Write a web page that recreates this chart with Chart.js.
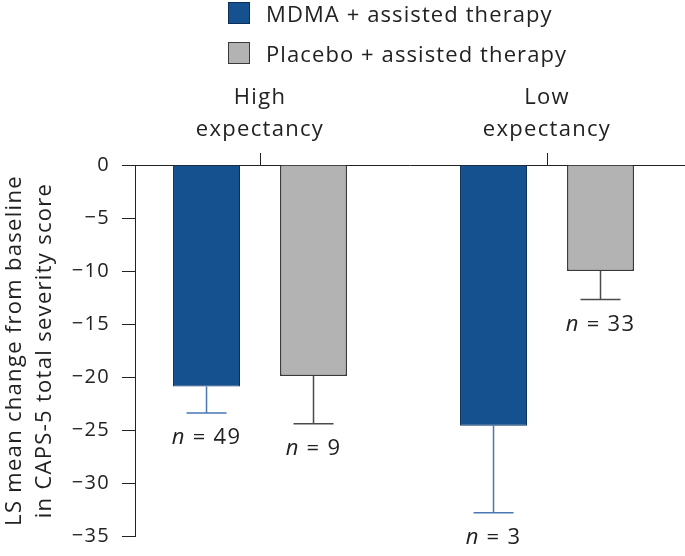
<!DOCTYPE html>
<html>
<head>
<meta charset="utf-8">
<script src="https://cdn.jsdelivr.net/npm/chart.js@4.4.1/dist/chart.umd.min.js"></script>
<style>
  html, body { margin: 0; padding: 0; background: #fff; }
  #wrap { position: relative; width: 685px; height: 556px; }
  #legend { position: absolute; left: 228px; top: 2px; font-family: "Open Sans", sans-serif; font-size: 22px; letter-spacing: 1.1px; color: #222; }
  .item { display: flex; align-items: center; height: 22px; margin-bottom: 18px; }
  .box { width: 22px; height: 22px; box-sizing: border-box; border: 1px solid #333; margin-right: 16px; }
</style>
</head>
<body>
<div id="wrap">
  <canvas id="chart" width="685" height="556"></canvas>
  <div id="legend"></div>
</div>
<script>
// ---- data ----
const groupLabels = [['High', 'expectancy'], ['Low', 'expectancy']];
const seriesNames = ['MDMA + assisted therapy', 'Placebo + assisted therapy'];
const mdmaMeans = [-20.9, -24.6];
const mdmaErrors = [2.5, 8.2];
const mdmaN = [49, 3];
const placeboMeans = [-19.9, -10.0];
const placeboErrors = [4.5, 2.7];
const placeboN = [9, 33];
const yTicks = [0, -5, -10, -15, -20, -25, -30, -35];

const fontFamily = '"Open Sans", sans-serif';
const textColor = '#222';
const spacing = '1.3px';

// canvas letter spacing for all chart text
const spacingPlugin = {
    id: 'letterSpacing',
    beforeDraw(chart) { chart.ctx.letterSpacing = spacing; }
};

// error bars + n labels
const errorBarPlugin = {
    id: 'errorBars',
    afterDatasetsDraw(chart) {
        const ctx = chart.ctx;
        const yScale = chart.scales.y;
        chart.data.datasets.forEach((ds, di) => {
            const meta = chart.getDatasetMeta(di);
            meta.data.forEach((bar, i) => {
                const mean = ds.data[i].y;
                const yEnd = yScale.getPixelForValue(mean - ds.errors[i]);
                ctx.save();
                ctx.strokeStyle = ds.errorColor;
                ctx.lineWidth = 1.5;
                ctx.beginPath();
                ctx.moveTo(bar.x, bar.y);
                ctx.lineTo(bar.x, yEnd);
                ctx.moveTo(bar.x - 20, yEnd);
                ctx.lineTo(bar.x + 20, yEnd);
                ctx.stroke();

                // n = xx label
                const nFont = 'italic 22px ' + fontFamily;
                const restFont = '22px ' + fontFamily;
                const rest = ' = ' + ds.counts[i];
                ctx.letterSpacing = spacing;
                ctx.font = nFont;
                const w1 = ctx.measureText('n').width;
                ctx.font = restFont;
                const w2 = ctx.measureText(rest).width;
                const x0 = bar.x - (w1 + w2) / 2;
                const ty = yEnd + 25;
                ctx.fillStyle = textColor;
                ctx.textBaseline = 'middle';
                ctx.textAlign = 'left';
                ctx.font = nFont;
                ctx.fillText('n', x0, ty);
                ctx.font = restFont;
                ctx.fillText(rest, x0 + w1, ty);
                ctx.restore();
            });
        });
    }
};

function toPoints(values) {
    return values.map((v, i) => ({ x: i, y: v }));
}

const ctx = document.getElementById('chart').getContext('2d');
const chart = new Chart(ctx, {
    type: 'bar',
    data: {
        datasets: [
            {
                label: seriesNames[0],
                data: toPoints(mdmaMeans),
                errors: mdmaErrors,
                counts: mdmaN,
                backgroundColor: '#15508f',
                borderColor: '#0c2f5a',
                borderWidth: 1,
                errorColor: '#4a77b4',
                categoryPercentage: 0.7456,
                barPercentage: 0.626
            },
            {
                label: seriesNames[1],
                data: toPoints(placeboMeans),
                errors: placeboErrors,
                counts: placeboN,
                backgroundColor: '#b3b3b3',
                borderColor: '#3a3a3a',
                borderWidth: 1.5,
                errorColor: '#4a4a4a',
                categoryPercentage: 0.7456,
                barPercentage: 0.626
            }
        ]
    },
    options: {
        responsive: false,
        animation: false,
        layout: { padding: { top: 83, right: 0, bottom: 0, left: 0 } },
        plugins: {
            legend: { display: false },
            tooltip: { enabled: false }
        },
        scales: {
            x: {
                type: 'linear',
                position: 'top',
                offset: false,
                min: -0.4356,
                max: 1.4808,
                afterBuildTicks: (scale) => { scale.ticks = [{ value: 0 }, { value: 1 }]; },
                afterFit: (scale) => { scale.height = 82; },
                grid: { drawOnChartArea: false, offset: false, tickLength: 12, color: textColor, tickWidth: 1 },
                border: { display: true, color: textColor, width: 1 },
                ticks: {
                    autoSkip: false,
                    maxRotation: 0,
                    padding: 8,
                    color: textColor,
                    font: { family: fontFamily, size: 22, lineHeight: 1.42 },
                    callback: (v) => groupLabels[v] || ''
                }
            },
            y: {
                min: -35,
                max: 0,
                afterBuildTicks: (scale) => { scale.ticks = yTicks.map(v => ({ value: v })); },
                afterFit: (scale) => { scale.width = 135; },
                grid: { drawOnChartArea: false, tickLength: 13, color: textColor },
                border: { display: true, color: textColor, width: 1 },
                ticks: {
                    padding: 12,
                    color: textColor,
                    font: { family: fontFamily, size: 20, lineHeight: 0.8 },
                    callback: (v) => v < 0 ? '\u2212' + Math.abs(v) : String(v)
                },
                title: {
                    display: true,
                    text: ['LS mean change from baseline', 'in CAPS-5 total severity score'],
                    color: textColor,
                    font: { family: fontFamily, size: 22, lineHeight: 1.35 },
                    padding: { top: 0, bottom: 0 }
                }
            }
        }
    },
    plugins: [spacingPlugin, errorBarPlugin]
});

// html legend built from the datasets
const legendEl = document.getElementById('legend');
chart.data.datasets.forEach(ds => {
    const item = document.createElement('div');
    item.className = 'item';
    const box = document.createElement('span');
    box.className = 'box';
    box.style.background = ds.backgroundColor;
    box.style.borderColor = ds.borderColor;
    const label = document.createElement('span');
    label.textContent = ds.label;
    item.appendChild(box);
    item.appendChild(label);
    legendEl.appendChild(item);
});
</script>
</body>
</html>
